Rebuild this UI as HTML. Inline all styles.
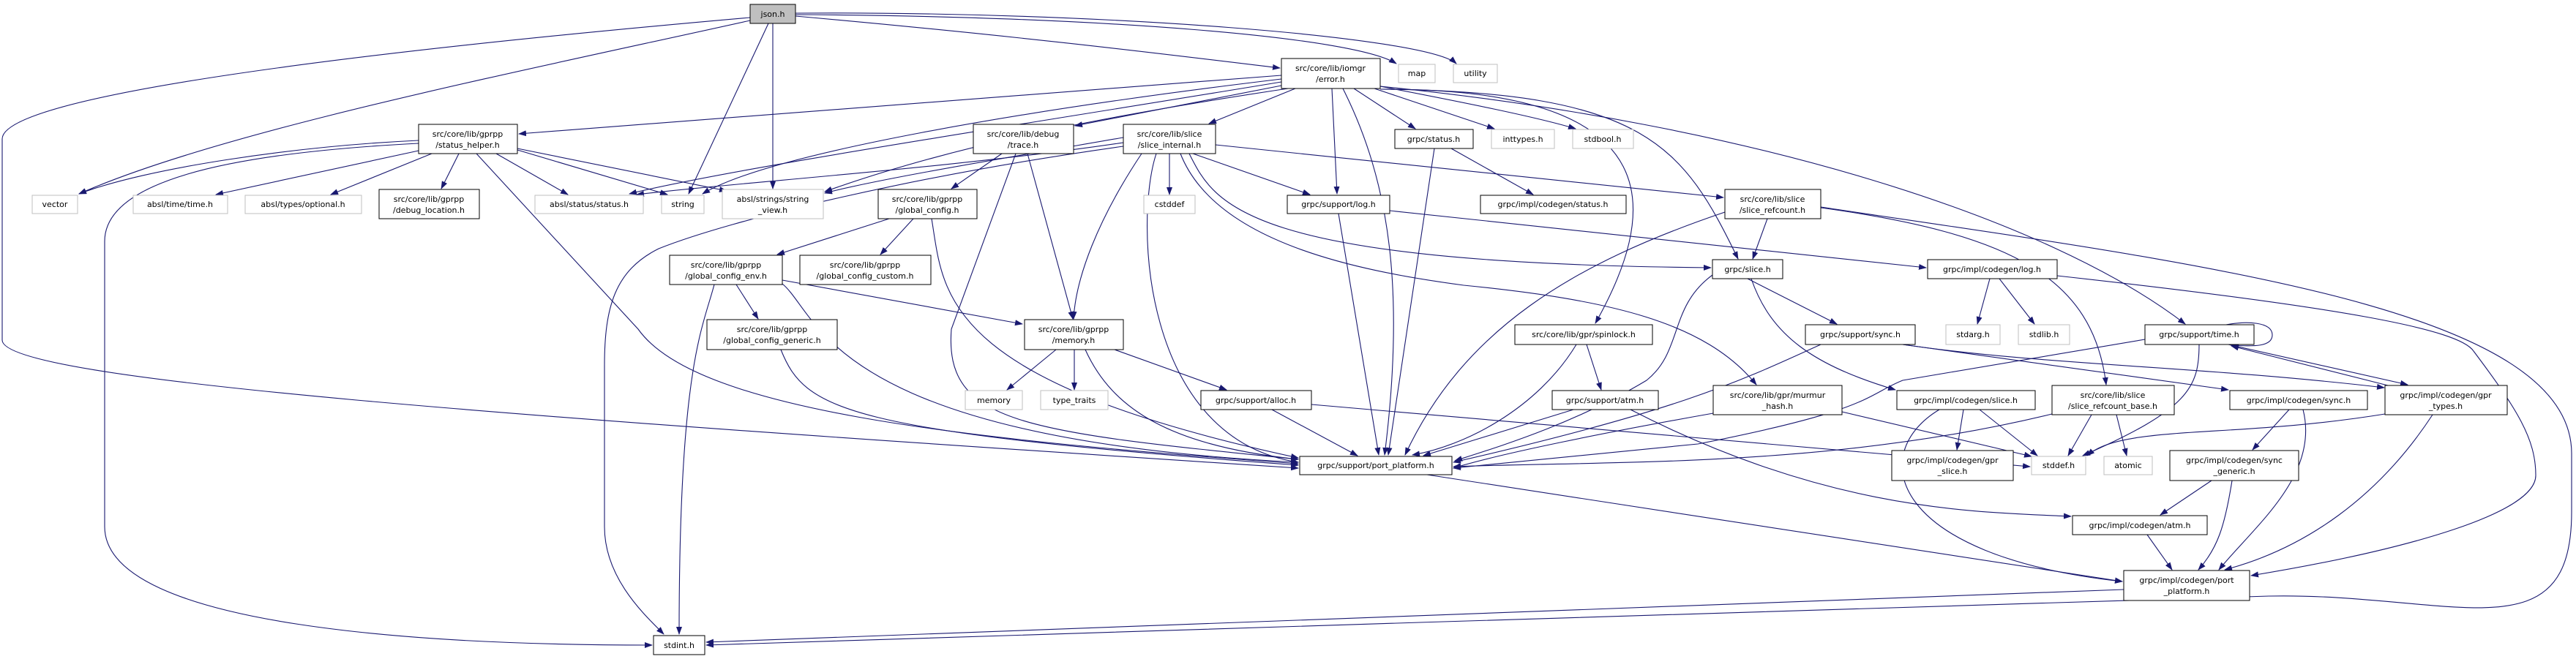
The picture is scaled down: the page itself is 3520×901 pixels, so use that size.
<!DOCTYPE html>
<html><head><meta charset="utf-8">
<style>
html,body{margin:0;padding:0;background:#fff;}
svg{display:block;}
text{font-family:"DejaVu Sans","Liberation Sans",sans-serif;font-size:11px;fill:#000;text-anchor:middle;}
.e{fill:none;stroke:#191970;stroke-width:1.1;marker-end:url(#a);}
.n{fill:#fff;stroke:#000;stroke-width:1;}
.g{fill:#fff;stroke:#bfbfbf;stroke-width:1;}
</style></head><body>
<svg width="3520" height="901" viewBox="0 0 3520 901" xmlns="http://www.w3.org/2000/svg">
<defs><marker id="a" markerUnits="userSpaceOnUse" markerWidth="11" markerHeight="8" refX="10" refY="4" orient="auto"><path d="M0,0 L11,4 L0,8 z" fill="#191970"/></marker></defs>
<g>
<path class="e" d="M1025,28 C700,100 300,180 108,265"/>
<path class="e" d="M1050,32 L941,265"/>
<path class="e" d="M1056,32 L1056,258"/>
<path class="e" d="M1087,22 C1400,50 1600,75 1749,93"/>
<path class="e" d="M1087,20 C1500,22 1850,50 1908,87"/>
<path class="e" d="M1087,18 C1500,15 1950,50 1990,87"/>
<path class="e" d="M1025,24 C500,70 3,130 3,190 L3,465 C3,520 700,570 1774,640"/>
<path class="e" d="M1751,103 L709,183"/>
<path class="e" d="M1751,108 C1400,150 1050,210 960,265"/>
<path class="e" d="M1751,112 C1400,170 1000,230 860,265"/>
<path class="e" d="M1760,121 C1500,160 1300,200 1127,262"/>
<path class="e" d="M1751,117 L1469,172"/>
<path class="e" d="M1770,121 L1652,169"/>
<path class="e" d="M1820,121 L1827,265"/>
<path class="e" d="M1835,121 C1900,250 1920,400 1892,622"/>
<path class="e" d="M1850,121 L1934,176"/>
<path class="e" d="M1878,121 L2042,176"/>
<path class="e" d="M1886,118 C2000,140 2100,160 2153,176"/>
<path class="e" d="M1886,122 C2250,125 2300,200 2375,354"/>
<path class="e" d="M1886,122 C2300,120 2260,300 2180,442"/>
<path class="e" d="M1886,118 C2400,170 2800,300 2986,443"/>
<path class="e" d="M572,192 C400,200 200,230 108,265"/>
<path class="e" d="M572,206 L295,266"/>
<path class="e" d="M590,210 L452,266"/>
<path class="e" d="M627,210 L603,258"/>
<path class="e" d="M678,210 L776,266"/>
<path class="e" d="M707,205 L912,266"/>
<path class="e" d="M707,203 L993,261"/>
<path class="e" d="M651,210 L872,450 C950,560 1300,600 1774,634"/>
<path class="e" d="M572,196 C300,210 143,250 143,330 L143,720 C143,860 600,882 891,882"/>
<path class="e" d="M1369,210 L1300,258"/>
<path class="e" d="M1388,210 L1300,450 C1290,580 1400,590 1774,628"/>
<path class="e" d="M1404,210 L1466,436"/>
<path class="e" d="M1535,188 C1350,220 1200,245 1127,264"/>
<path class="e" d="M1535,195 C1300,230 1000,250 870,266"/>
<path class="e" d="M1598,210 L1598,266"/>
<path class="e" d="M1630,210 L1790,266"/>
<path class="e" d="M1661,198 L2355,270"/>
<path class="e" d="M1625,210 C1660,280 1700,360 2338,366"/>
<path class="e" d="M1560,210 C1500,300 1470,380 1467,436"/>
<path class="e" d="M1580,210 C1550,300 1560,600 1774,632"/>
<path class="e" d="M1613,210 C1660,330 1850,370 2000,390 C2200,410 2330,440 2400,526"/>
<path class="e" d="M1535,200 C1250,240 1000,300 900,340 C840,370 826,420 826,500 L826,720 C826,790 880,840 907,867"/>
<path class="e" d="M1215,299 L1062,348"/>
<path class="e" d="M1248,299 L1203,348"/>
<path class="e" d="M1273,299 C1290,400 1280,520 1774,626"/>
<path class="e" d="M1006,389 L1036,436"/>
<path class="e" d="M976,389 C960,450 928,500 928,867"/>
<path class="e" d="M1069,388 C1120,430 1130,600 1774,632"/>
<path class="e" d="M1069,383 L1397,443"/>
<path class="e" d="M1067,478 C1100,560 1150,590 1774,636"/>
<path class="e" d="M1443,478 L1376,533"/>
<path class="e" d="M1468,478 L1468,533"/>
<path class="e" d="M1523,478 L1676,533"/>
<path class="e" d="M1483,478 C1520,560 1600,610 1774,628"/>
<path class="e" d="M1738,560 L1855,623"/>
<path class="e" d="M1792,553 L2774,638"/>
<path class="e" d="M1829,292 L1884,622"/>
<path class="e" d="M1899,288 L2632,366"/>
<path class="e" d="M1960,203 L1897,622"/>
<path class="e" d="M1983,203 L2095,266"/>
<path class="e" d="M2415,299 L2395,354"/>
<path class="e" d="M2357,290 C2150,360 2000,450 1920,622"/>
<path class="e" d="M2488,284 C2750,320 2860,380 2878,526"/>
<path class="e" d="M2488,283 C3000,360 3514,420 3514,620 L3514,700 C3514,900 3350,810 3100,815 C2800,830 1500,860 965,882"/>
<path class="e" d="M2902,806 L965,878"/>
<path class="e" d="M2388,381 L2510,443"/>
<path class="e" d="M2393,381 C2420,460 2480,500 2590,533"/>
<path class="e" d="M2340,376 C2280,420 2300,480 2250,520 C2150,580 2050,610 1988,630"/>
<path class="e" d="M2488,471 C2380,520 2300,560 1986,632"/>
<path class="e" d="M2600,471 L3045,533"/>
<path class="e" d="M2600,471 C2800,500 3000,500 3258,530"/>
<path class="e" d="M2719,381 L2702,443"/>
<path class="e" d="M2732,381 L2780,443"/>
<path class="e" d="M2811,377 C3200,420 3360,450 3380,480 C3440,560 3465,600 3465,650 C3465,700 3300,750 3076,787"/>
<path class="e" d="M3037,445 C3070,438 3105,440 3105,458 C3105,474 3080,474 3049,472"/>
<path class="e" d="M3045,471 L3290,526"/>
<path class="e" d="M3263,527 L3049,473"/>
<path class="e" d="M3005,471 C3005,530 2990,560 2846,623"/>
<path class="e" d="M2931,464 L2600,520 C2550,540 2560,560 2320,607 L1986,640"/>
<path class="e" d="M2168,471 L2188,533"/>
<path class="e" d="M2154,471 C2100,560 2000,610 1930,622"/>
<path class="e" d="M2150,560 L1945,623"/>
<path class="e" d="M2228,560 C2500,700 2700,700 2830,706"/>
<path class="e" d="M2341,565 C2200,590 2050,620 1986,640"/>
<path class="e" d="M2517,563 L2776,624"/>
<path class="e" d="M2683,560 L2674,615"/>
<path class="e" d="M2705,560 L2784,623"/>
<path class="e" d="M2650,560 C2550,620 2580,760 2900,795"/>
<path class="e" d="M2858,567 L2826,623"/>
<path class="e" d="M2892,567 L2906,623"/>
<path class="e" d="M2804,566 C2500,640 2200,630 1986,638"/>
<path class="e" d="M3128,560 L3078,615"/>
<path class="e" d="M3147,560 C3170,650 3080,720 3032,779"/>
<path class="e" d="M3259,566 C3050,600 2900,580 2852,623"/>
<path class="e" d="M3324,567 C3250,680 3150,750 3040,779"/>
<path class="e" d="M3022,657 L2952,704"/>
<path class="e" d="M3050,657 C3040,720 3030,750 3004,779"/>
<path class="e" d="M2934,731 L2968,779"/>
<path class="e" d="M1950,649 L2900,795"/>
</g>
<g>
<rect x="1025" y="6" width="62" height="26" fill="#bfbfbf" stroke="#000"/><text x="1056" y="23">json.h</text>
<rect class="n" x="1751" y="80" width="135" height="41"/><text x="1818" y="97">src/core/lib/iomgr</text><text x="1818" y="112">/error.h</text>
<rect class="g" x="1911" y="88" width="50" height="25"/><text x="1936" y="104">map</text>
<rect class="g" x="1986" y="88" width="60" height="25"/><text x="2016" y="104">utility</text>
<rect class="n" x="572" y="170" width="135" height="40"/><text x="639" y="187">src/core/lib/gprpp</text><text x="639" y="202">/status_helper.h</text>
<rect class="n" x="1330" y="170" width="137" height="40"/><text x="1398" y="187">src/core/lib/debug</text><text x="1398" y="202">/trace.h</text>
<rect class="n" x="1535" y="170" width="126" height="40"/><text x="1598" y="187">src/core/lib/slice</text><text x="1598" y="202">/slice_internal.h</text>
<rect class="n" x="1906" y="177" width="107" height="26"/><text x="1959" y="194">grpc/status.h</text>
<rect class="g" x="2038" y="177" width="86" height="26"/><text x="2081" y="194">inttypes.h</text>
<rect class="g" x="2149" y="177" width="83" height="26"/><text x="2190" y="194">stdbool.h</text>
<rect class="g" x="44" y="267" width="62" height="25"/><text x="75" y="283">vector</text>
<rect class="g" x="182" y="267" width="129" height="25"/><text x="246" y="283">absl/time/time.h</text>
<rect class="g" x="335" y="267" width="159" height="25"/><text x="414" y="283">absl/types/optional.h</text>
<rect class="n" x="518" y="259" width="137" height="40"/><text x="586" y="276">src/core/lib/gprpp</text><text x="586" y="291">/debug_location.h</text>
<rect class="g" x="731" y="267" width="148" height="25"/><text x="805" y="283">absl/status/status.h</text>
<rect class="g" x="904" y="267" width="58" height="25"/><text x="933" y="283">string</text>
<rect class="g" x="987" y="259" width="138" height="40"/><text x="1056" y="276">absl/strings/string</text><text x="1056" y="291">_view.h</text>
<rect class="n" x="1200" y="259" width="135" height="40"/><text x="1267" y="276">src/core/lib/gprpp</text><text x="1267" y="291">/global_config.h</text>
<rect class="g" x="1563" y="267" width="70" height="25"/><text x="1598" y="283">cstddef</text>
<rect class="n" x="1759" y="267" width="140" height="25"/><text x="1829" y="283">grpc/support/log.h</text>
<rect class="n" x="2023" y="267" width="199" height="25"/><text x="2122" y="283">grpc/impl/codegen/status.h</text>
<rect class="n" x="2357" y="259" width="131" height="40"/><text x="2422" y="276">src/core/lib/slice</text><text x="2422" y="291">/slice_refcount.h</text>
<rect class="n" x="915" y="349" width="154" height="40"/><text x="992" y="366">src/core/lib/gprpp</text><text x="992" y="381">/global_config_env.h</text>
<rect class="n" x="1093" y="349" width="179" height="40"/><text x="1182" y="366">src/core/lib/gprpp</text><text x="1182" y="381">/global_config_custom.h</text>
<rect class="n" x="2340" y="355" width="96" height="26"/><text x="2388" y="372">grpc/slice.h</text>
<rect class="n" x="2634" y="355" width="177" height="26"/><text x="2722" y="372">grpc/impl/codegen/log.h</text>
<rect class="n" x="966" y="437" width="178" height="41"/><text x="1055" y="454">src/core/lib/gprpp</text><text x="1055" y="469">/global_config_generic.h</text>
<rect class="n" x="1400" y="437" width="135" height="41"/><text x="1467" y="454">src/core/lib/gprpp</text><text x="1467" y="469">/memory.h</text>
<rect class="n" x="2070" y="444" width="188" height="27"/><text x="2164" y="461">src/core/lib/gpr/spinlock.h</text>
<rect class="n" x="2467" y="444" width="150" height="27"/><text x="2542" y="461">grpc/support/sync.h</text>
<rect class="g" x="2659" y="444" width="74" height="27"/><text x="2696" y="461">stdarg.h</text>
<rect class="g" x="2758" y="444" width="70" height="27"/><text x="2793" y="461">stdlib.h</text>
<rect class="n" x="2931" y="444" width="149" height="27"/><text x="3005" y="461">grpc/support/time.h</text>
<rect class="g" x="1319" y="534" width="78" height="26"/><text x="1358" y="551">memory</text>
<rect class="g" x="1422" y="534" width="92" height="26"/><text x="1468" y="551">type_traits</text>
<rect class="n" x="1641" y="534" width="151" height="26"/><text x="1716" y="551">grpc/support/alloc.h</text>
<rect class="n" x="2121" y="534" width="145" height="26"/><text x="2193" y="551">grpc/support/atm.h</text>
<rect class="n" x="2341" y="527" width="176" height="40"/><text x="2429" y="544">src/core/lib/gpr/murmur</text><text x="2429" y="559">_hash.h</text>
<rect class="n" x="2592" y="534" width="189" height="26"/><text x="2686" y="551">grpc/impl/codegen/slice.h</text>
<rect class="n" x="2804" y="527" width="167" height="40"/><text x="2887" y="544">src/core/lib/slice</text><text x="2887" y="559">/slice_refcount_base.h</text>
<rect class="n" x="3047" y="534" width="188" height="26"/><text x="3141" y="551">grpc/impl/codegen/sync.h</text>
<rect class="n" x="3259" y="527" width="167" height="40"/><text x="3342" y="544">grpc/impl/codegen/gpr</text><text x="3342" y="559">_types.h</text>
<rect class="n" x="2585" y="616" width="166" height="41"/><text x="2668" y="633">grpc/impl/codegen/gpr</text><text x="2668" y="648">_slice.h</text>
<rect class="g" x="2776" y="624" width="74" height="25"/><text x="2813" y="640">stddef.h</text>
<rect class="g" x="2875" y="624" width="66" height="25"/><text x="2908" y="640">atomic</text>
<rect class="n" x="2965" y="616" width="176" height="41"/><text x="3053" y="633">grpc/impl/codegen/sync</text><text x="3053" y="648">_generic.h</text>
<rect class="n" x="1776" y="624" width="208" height="25"/><text x="1880" y="640">grpc/support/port_platform.h</text>
<rect class="n" x="2832" y="705" width="184" height="26"/><text x="2924" y="722">grpc/impl/codegen/atm.h</text>
<rect class="n" x="2902" y="780" width="172" height="41"/><text x="2988" y="797">grpc/impl/codegen/port</text><text x="2988" y="812">_platform.h</text>
<rect class="n" x="893" y="869" width="70" height="26"/><text x="928" y="886">stdint.h</text>
</g>
</svg>
</body></html>
